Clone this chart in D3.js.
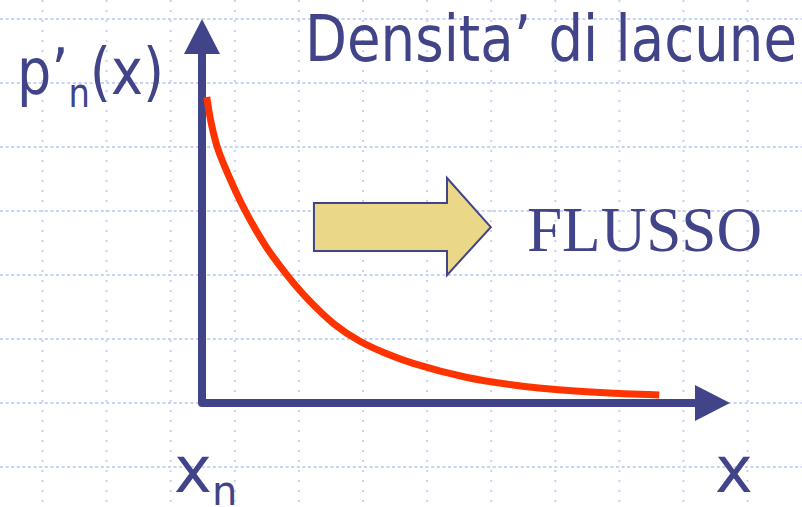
<!DOCTYPE html>
<html lang="it">
<head>
<meta charset="UTF-8">
<title>Densita' di lacune</title>
<script src="https://d3js.org/d3.v7.min.js"></script>
<style>
  body { margin: 0; background: #fff; }
  svg { display: block; }
</style>
</head>
<body>
<script>
// curve values (x from x_n, density p'_n(x))
var curveX = [0.09, 0.18, 0.3, 0.55, 0.81, 1.2, 1.6, 2.0, 2.5, 3.0, 3.5, 4.0, 5.0, 6.0, 7.0, 8.0, 8.66];
var curveY = [7.97, 7.25, 6.62, 5.78, 5.03, 4.10, 3.35, 2.71, 2.06, 1.60, 1.28, 1.03, 0.67, 0.45, 0.32, 0.24, 0.21];

// FLUSSO arrow outline, same data units
var flowX = [2.12, 4.64, 4.64, 5.47, 4.64, 4.64, 2.12];
var flowY = [5.21, 5.21, 5.86, 4.58, 3.33, 3.96, 3.96];

var title = "Densita\u2019 di lacune";
var flowLabel = "FLUSSO";

var width = 802, height = 507;
var dark = "#414489";

var x = d3.scaleLinear().domain([0, 10]).range([202, 730]);
var y = d3.scaleLinear().domain([0, 10]).range([403, 19]);

var svg = d3.select("body").append("svg")
    .attr("width", width)
    .attr("height", height);

// dotted background grid
var grid = svg.append("g").attr("stroke", "#c6d3f8").attr("stroke-width", 2);
grid.selectAll("line.v").data(d3.range(12)).enter()
    .append("line")
    .attr("x1", function(d) { return 42.5 + d * 64.1; })
    .attr("x2", function(d) { return 42.5 + d * 64.1; })
    .attr("y1", 0).attr("y2", height)
    .attr("stroke-dasharray", "2,8");
grid.selectAll("line.h").data(d3.range(8)).enter()
    .append("line")
    .attr("y1", function(d) { return 19 + d * 64; })
    .attr("y2", function(d) { return 19 + d * 64; })
    .attr("x1", 0).attr("x2", width)
    .attr("stroke-dasharray", "3,2.6");

// axes
var head = 35;
svg.append("path")
    .attr("d", "M" + x(0) + "," + (y(10) + head - 2) + "L" + x(0) + "," + y(0) + "L" + (x(10) - head + 2) + "," + y(0))
    .attr("fill", "none")
    .attr("stroke", dark)
    .attr("stroke-width", 8)
    .attr("stroke-linejoin", "round");
svg.append("polygon")
    .attr("points", [[x(0), y(10)], [x(0) - 18, y(10) + head], [x(0) + 18, y(10) + head]].join(" "))
    .attr("fill", dark);
svg.append("polygon")
    .attr("points", [[x(10), y(0)], [x(10) - head, y(0) - 18], [x(10) - head, y(0) + 18]].join(" "))
    .attr("fill", dark);

// density curve
var line = d3.line()
    .x(function(d) { return x(d[0]); })
    .y(function(d) { return y(d[1]); })
    .curve(d3.curveCatmullRom.alpha(0.5));
svg.append("path")
    .datum(d3.zip(curveX, curveY))
    .attr("d", line)
    .attr("fill", "none")
    .attr("stroke", "#ff3300")
    .attr("stroke-width", 7);

// flow arrow
svg.append("polygon")
    .attr("points", d3.zip(flowX, flowY).map(function(p) { return [x(p[0]), y(p[1])]; }).join(" "))
    .attr("fill", "#ebd788")
    .attr("stroke", dark)
    .attr("stroke-width", 2);

// texts
var sans = "'DejaVu Sans', Verdana, sans-serif";
svg.append("text")
    .attr("x", 305).attr("y", 61)
    .attr("font-family", sans).attr("font-size", 64)
    .attr("fill", dark)
    .attr("textLength", 492).attr("lengthAdjust", "spacingAndGlyphs")
    .text(title);

svg.append("text")
    .attr("x", 527).attr("y", 251)
    .attr("font-family", "'Liberation Serif', 'Times New Roman', serif").attr("font-size", 64)
    .attr("fill", dark)
    .attr("textLength", 235).attr("lengthAdjust", "spacingAndGlyphs")
    .text(flowLabel);

var yl = svg.append("text")
    .attr("x", 17).attr("y", 94)
    .attr("font-family", sans).attr("font-size", 64)
    .attr("fill", dark)
    .attr("textLength", 147).attr("lengthAdjust", "spacingAndGlyphs");
yl.append("tspan").text("p\u2019");
yl.append("tspan").attr("font-size", 40).attr("dy", 13).text("n");
yl.append("tspan").attr("dy", -13).text("(x)");

var xn = svg.append("text")
    .attr("x", 174).attr("y", 492)
    .attr("font-family", sans).attr("font-size", 64)
    .attr("fill", dark);
xn.append("tspan").text("x");
xn.append("tspan").attr("font-size", 40).attr("dy", 13).text("n");

svg.append("text")
    .attr("x", 715).attr("y", 492)
    .attr("font-family", sans).attr("font-size", 64)
    .attr("fill", dark)
    .text("x");
</script>
</body>
</html>
